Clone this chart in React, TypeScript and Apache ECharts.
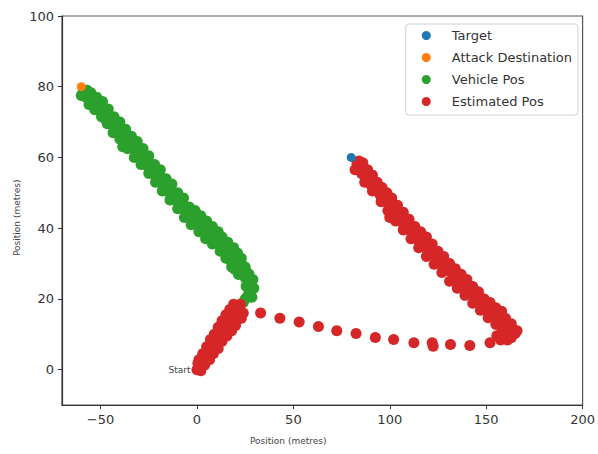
import React, { useEffect, useRef } from "react";
import * as echarts from "echarts";

const xTicks = [-50, 0, 50, 100, 150, 200];
const yTicks = [0, 20, 40, 60, 80, 100];

const target: number[][] = [[80, 60]];
const attackDestination: number[][] = [[-60, 80]];

const vehiclePos: number[][] = [
  [-59, 78.6], [-58, 77.2], [-57.5, 78], [-56, 76.4], [-55, 77], [-54.5, 75.2], [-53, 76], [-52, 74.3],
  [-51, 75.1], [-50, 73], [-49, 74], [-48, 72.2], [-47.5, 70.8], [-46, 71.6], [-45, 69.5], [-44.5, 70.9],
  [-43, 68.4], [-42, 69.6], [-41, 67.5], [-40, 68.2], [-39, 66.1], [-38.5, 63], [-37.5, 66.8], [-36.5, 64.6],
  [-35, 65.4], [-34, 63.2], [-33, 64], [-32, 61.9], [-31, 62.8], [-30, 60.6], [-29, 61.5], [-28, 59.3],
  [-27, 60.2], [-26, 57.8], [-25, 58.8], [-24, 56.5], [-23, 57.4], [-22, 55.1], [-21, 56], [-20, 53.8],
  [-19, 54.6], [-18, 52.4], [-17, 53.3], [-16, 51], [-15, 51.9], [-14, 49.8], [-13, 50.6], [-12, 48.5],
  [-11, 49.3], [-10, 47.2], [-9, 48], [-8, 46], [-7, 46.8], [-6, 44.8], [-5, 45.6], [-4, 43.6],
  [-3, 44.3], [-2, 42.4], [-1, 43.2], [0, 41.2], [1, 42], [2, 40.2], [3, 41.1], [4, 39.3],
  [5, 40], [6, 38.2], [7, 39], [8, 37.3], [9, 38], [10, 36.3], [11, 37.2], [12, 35.4],
  [13, 34.2], [14, 36], [15, 33.3], [16, 34.6], [17, 32.4], [18, 33.5], [17.5, 30.8], [19, 31.6],
  [20, 29.8], [21, 31], [19.5, 28.4], [22, 28.8], [23, 30], [24, 27.2], [21.5, 26.9], [25, 26],
  [26, 27.5], [27, 24.8], [25.5, 23.6], [28, 24], [27, 22.5], [26.5, 21], [25, 20], [24, 19], [27.5, 21.8],
  [-56, 75], [-53, 73.5], [-49.5, 71.5], [-46.5, 69.5], [-43.5, 67], [-40, 65.2], [-36, 62.5], [-32.5, 60],
  [-29, 58], [-25, 55.5], [-21.5, 53], [-18, 50.5], [-14, 48], [-10, 45.5], [-6.5, 43], [-3, 41],
  [1, 39], [4.5, 37], [8, 35.5], [12, 33.5], [15, 31.5], [18, 29],
  [-60, 77.5], [-57, 79], [-55, 78.3], [-52, 77], [-49, 75.8], [-46, 73.7], [-43, 71.5], [-40, 70],
  [-37, 68], [-34, 66], [-31, 64.5], [-28, 62.5], [-25, 60.5], [-22, 58], [-19, 56.5], [-16, 54],
  [-13, 52.5], [-10, 50], [-7, 48.5], [-4, 46], [-1, 45], [2, 43.5], [5, 42], [8, 40.5],
  [11, 39], [13, 37.5], [16, 36], [19, 34.5], [21, 33], [23, 31.5], [25, 29], [27, 27],
  [29, 25.5], [29.5, 23], [28.5, 20.5],
];

const estimatedStart: number[][] = [
  [0, 0], [1, 0.8], [0.5, 1.8], [2, 1.2], [2.5, 2.5], [3.5, 1.9], [4, 3.6], [5, 3],
  [5, 4.8], [6, 4.2], [6.5, 6], [7.5, 5.4], [8, 7.2], [9, 6.6], [9.5, 8.4], [10.5, 7.8],
  [11, 9.6], [12, 9], [12, 10.8], [13, 10.2], [13.5, 12], [14.5, 11.4], [15, 13.2], [16, 12.6],
  [16.5, 14.4], [17.5, 13.8], [18, 15.6], [19, 15], [20, 16.8], [21, 16.2], [22, 17.8], [23, 14.5], [22.5, 18.5],
  [1, 2.8], [3, 4.5], [5, 6.5], [7, 8.5], [9, 10], [11, 12], [13, 13.8], [15, 15.5],
  [17, 17], [19, 18.5], [2, -0.3], [4, 1.3], [6.5, 2.8], [8.5, 4.5], [11, 6], [13, 8],
  [15.5, 9.5], [18, 11], [20, 12.5], [22, 14.5], [24, 16],
];

const estimatedCross: number[][] = [
  [33, 16], [43, 14.5], [53, 13.5], [63, 12.2], [72.5, 11], [82.5, 10.2], [92.5, 9.1], [102, 8.5],
  [112.5, 7.6], [122, 7.6], [122.5, 6.6], [131.5, 7.1], [141.5, 6.8], [152, 7.6],
];

const estimatedReturn: number[][] = [
  [83, 58.2], [84.5, 56.8], [86, 57.4], [85.5, 55.4], [87, 55.9], [88, 54], [89.5, 54.6], [90, 52.4],
  [91.5, 53], [92.5, 50.9], [94, 51.5], [95, 49.4], [96.5, 50], [97.5, 47.6], [99, 48.3], [100, 46],
  [101.5, 46.7], [102, 44.3], [100, 43], [103.5, 44.9], [104.5, 42.7], [106, 43.4], [107, 41.2], [108.5, 41.9],
  [109.5, 39.6], [111, 40.3], [112, 38.2], [113.5, 38.9], [114.5, 36.7], [116, 37.4], [117, 35.3], [118.5, 36],
  [119.5, 33.8], [121, 34.5], [122, 32.4], [123.5, 33.1], [125, 30.9], [126.5, 31.6], [127.5, 29.5], [129, 30.2],
  [130.5, 28], [132, 28.6], [133, 26.6], [134.5, 27.3], [135.5, 25.1], [137, 25.8], [138, 23.8], [139.5, 24.4],
  [141, 22.4], [142.5, 23], [143.5, 21], [145, 21.6], [146, 19.6], [147.5, 20.2], [148.5, 18.2], [150, 18.8],
  [151, 16.8], [152.5, 17.4], [153.5, 15.4], [155, 16], [156.5, 14.2], [157, 15.5], [158, 12.8], [159.5, 13.6],
  [160, 11.3], [161.5, 12.2], [162.5, 10.4], [164, 11.4], [165, 10.2], [163, 9], [161, 8.4], [159, 10],
  [157.5, 8.4], [155.5, 9.6],
  [87, 53], [91, 50.5], [95.5, 47.5], [99, 45], [103, 42], [107, 39.5], [111, 37], [115, 34.5],
  [119, 32], [123, 29.8], [127, 27.5], [131, 25], [135, 23], [139, 21], [143, 18.8], [147, 16.8],
  [151, 14.7], [155, 12.8], [158, 10.5],
  [82, 56.5], [84, 59], [86, 58.5], [88.5, 56.5], [91, 55], [93.5, 53], [96, 51.5], [98.5, 50],
  [101, 48.5], [104, 46.5], [107, 44.5], [110, 42.5], [113, 40.5], [116, 39], [119, 37.5], [122, 35.5],
  [125, 33.5], [128, 32], [131, 30], [134, 28.5], [137, 27], [140, 25.5], [143, 23.5], [146, 22],
  [149, 20], [152, 19], [155, 17.5], [158, 16.5], [160, 14.5], [163, 13], [166, 11],
];

const COLORS = ["#1f77b4", "#ff7f0e", "#2ca02c", "#d62728"];
const FONT = "DejaVu Sans";

export default function App() {
  const ref = useRef<HTMLDivElement>(null);
  useEffect(() => {
    if (!ref.current) return;
    const chart = echarts.init(ref.current, undefined, { renderer: "svg" });
    const estimated: any[] = [
      ...estimatedStart.map((p, i) =>
        i === 0
          ? {
              value: p,
              label: {
                show: true,
                position: "left",
                distance: 1,
                formatter: "Start",
                fontSize: 9,
                color: "#444",
                fontFamily: FONT,
              },
            }
          : p
      ),
      ...estimatedCross,
      ...estimatedReturn,
    ];
    const axisCommon = {
      axisLine: { show: true, onZero: false, lineStyle: { color: "#333", width: 1.2 } },
      axisTick: { show: true, inside: false, length: 4, lineStyle: { color: "#333", width: 1 } },
      splitLine: { show: false },
    };
    const itemStyle = { opacity: 1 };
    chart.setOption({
      animation: false,
      backgroundColor: "#ffffff",
      color: COLORS,
      grid: {
        left: 62,
        right: 12,
        top: 16,
        bottom: 49,
        show: true,
        borderColor: "#555",
        borderWidth: 1.2,
        backgroundColor: "transparent",
      },
      xAxis: {
        type: "value",
        min: -70,
        max: 200,
        ...axisCommon,
        axisTick: { ...axisCommon.axisTick, customValues: xTicks },
        axisLabel: {
          customValues: xTicks,
          fontSize: 13,
          color: "#333",
          fontFamily: FONT,
          margin: 8,
          formatter: (v: number) => (v < 0 ? "\u2212" + Math.abs(v) : String(v)),
        },
      },
      yAxis: {
        type: "value",
        min: -10,
        max: 100,
        ...axisCommon,
        axisTick: { ...axisCommon.axisTick, customValues: yTicks },
        axisLabel: {
          customValues: yTicks,
          fontSize: 13,
          color: "#333",
          fontFamily: FONT,
          margin: 8,
        },
      },
      legend: {
        orient: "vertical",
        right: 20,
        top: 24,
        icon: "circle",
        itemWidth: 9,
        itemHeight: 9,
        itemGap: 9,
        padding: [5, 6, 7, 16],
        borderColor: "#d0d0d0",
        borderWidth: 1,
        borderRadius: 3,
        backgroundColor: "#ffffff",
        itemStyle: { opacity: 1 },
        textStyle: {
          fontSize: 13,
          lineHeight: 13,
          color: "#333",
          fontFamily: FONT,
          padding: [0, 0, 0, 16],
        },
        data: ["Target", "Attack Destination", "Vehicle Pos", "Estimated Pos"],
      },
      graphic: [
        {
          type: "text",
          left: 250,
          top: 436,
          style: { text: "Position (metres)", fontSize: 9, fill: "#444", fontFamily: FONT },
        },
        {
          type: "text",
          x: 12,
          y: 256,
          rotation: Math.PI / 2,
          style: { text: "Position (metres)", fontSize: 9, fill: "#444", fontFamily: FONT },
        },
      ],
      series: [
        { name: "Target", type: "scatter", symbolSize: 9, data: target, z: 6, itemStyle },
        { name: "Attack Destination", type: "scatter", symbolSize: 9, data: attackDestination, z: 6, itemStyle },
        { name: "Vehicle Pos", type: "scatter", symbolSize: 11, data: vehiclePos, z: 3, itemStyle },
        { name: "Estimated Pos", type: "scatter", symbolSize: 11, data: estimated, z: 4, itemStyle },
      ],
    });
    return () => chart.dispose();
  }, []);
  return <div ref={ref} style={{ width: 598, height: 454, position: "absolute", left: 0, top: 0 }} />;
}
